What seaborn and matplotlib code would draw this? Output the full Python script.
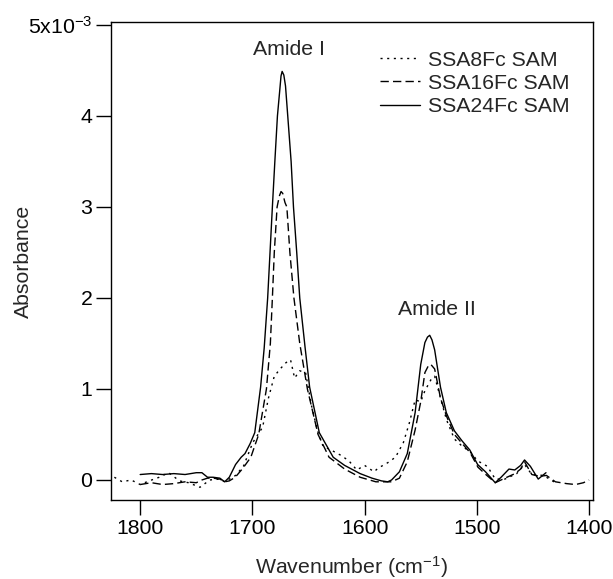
import matplotlib
matplotlib.use("Agg")
import matplotlib.pyplot as plt
import seaborn as sns
import pandas as pd

# ---- data (absorbance in units of 1e-3) ----
w_24 = [1800, 1790, 1780, 1770, 1760, 1750, 1745, 1740, 1735, 1729, 1724.7, 1720.6, 1715, 1710,
        1706.6, 1702, 1697.9, 1692.7, 1689.5, 1686.4, 1684.3, 1682.2, 1680, 1677.7, 1675.5, 1674.5,
        1673.5, 1672, 1670.5, 1668.5, 1665.5, 1663.4, 1660.5, 1657.8, 1653, 1649, 1640.4, 1628,
        1617.8, 1604, 1593.4, 1585, 1579.4, 1576, 1569, 1562, 1555, 1550, 1546.3, 1544, 1542,
        1540, 1537.6, 1532.4, 1527.2, 1520, 1513.2, 1506.3, 1499.3, 1492.3, 1483.6, 1478.4, 1471.4,
        1466.2, 1461, 1457.5, 1452.3, 1445.3, 1438.4]
a_24 = [0.06, 0.07, 0.06, 0.07, 0.06, 0.08, 0.08, 0.03, 0.03, 0.02, -0.02, 0.03, 0.17, 0.25,
        0.29, 0.40, 0.52, 1.02, 1.45, 2.00, 2.50, 3.00, 3.50, 4.00, 4.30, 4.44,
        4.49, 4.45, 4.33, 4.00, 3.50, 3.00, 2.50, 2.00, 1.45, 1.02, 0.52, 0.25,
        0.16, 0.07, 0.02, -0.01, -0.02, 0.00, 0.09, 0.29, 0.74, 1.27, 1.51, 1.57, 1.59,
        1.54, 1.43, 1.02, 0.74, 0.54, 0.43, 0.33, 0.17, 0.09, -0.03, 0.03, 0.12,
        0.11, 0.16, 0.22, 0.15, 0.01, 0.08]

w_16 = [1800, 1790, 1780, 1770, 1760, 1750, 1745, 1740, 1735, 1729, 1724.7, 1720.6, 1715.3, 1708.4,
        1701.4, 1694.4, 1687.5, 1684, 1682.2, 1680.5, 1678, 1676, 1674.5, 1673, 1671, 1669.3,
        1666.6, 1663, 1657.8, 1651, 1641.5, 1631.7, 1617.8, 1604, 1590, 1576, 1569, 1562, 1555,
        1550, 1546.3, 1543, 1541, 1537.6, 1532.4, 1527, 1520, 1513, 1506, 1499, 1492, 1483.6,
        1475, 1466, 1461, 1457.5, 1451, 1444, 1438, 1430, 1420, 1412, 1405, 1400]
a_16 = [-0.05, -0.03, -0.05, -0.04, -0.02, -0.03, 0.00, 0.02, 0.02, 0.01, -0.02, -0.01, 0.03, 0.13,
        0.25, 0.50, 1.00, 1.50, 2.00, 2.50, 3.00, 3.12, 3.17, 3.15, 3.05, 3.00,
        2.50, 2.00, 1.50, 1.00, 0.50, 0.25, 0.12, 0.03, -0.02, -0.02, 0.02, 0.20, 0.55,
        0.86, 1.18, 1.26, 1.27, 1.22, 0.90, 0.70, 0.50, 0.40, 0.30, 0.14, 0.06, -0.03,
        0.02, 0.07, 0.12, 0.20, 0.06, 0.04, 0.05, -0.02, -0.04, -0.05, -0.03, 0.00]

w_8 = [1823, 1816, 1808, 1800, 1792, 1783, 1774.6, 1765, 1757, 1746.7, 1738, 1729, 1724.7, 1715,
       1708, 1699.7, 1690.9, 1685.7, 1680.5, 1675.3, 1670, 1666, 1662.4, 1657.8, 1652.6, 1647.4,
       1642, 1637, 1630, 1621, 1614, 1607, 1600, 1591.6, 1588, 1579.4, 1572.5, 1565.5, 1560.3,
       1555, 1550, 1546.3, 1541, 1537.6, 1532.4, 1527, 1520, 1513, 1506, 1499.3, 1490.6, 1483.6,
       1475, 1464.5, 1457.5, 1451, 1440.6, 1430]
a_8 = [0.03, -0.02, 0.00, -0.05, -0.01, 0.03, 0.08, -0.01, -0.03, -0.08, 0.00, 0.01, -0.02, 0.05,
       0.15, 0.41, 0.58, 0.90, 1.14, 1.22, 1.29, 1.32, 1.12, 1.20, 1.18, 0.82,
       0.54, 0.37, 0.33, 0.27, 0.21, 0.11, 0.16, 0.09, 0.13, 0.19, 0.25, 0.41, 0.62,
       0.88, 0.86, 0.98, 1.10, 1.14, 0.90, 0.66, 0.45, 0.37, 0.31, 0.21, 0.15, 0.01,
       0.01, 0.07, 0.17, 0.06, 0.05, -0.03]

labels = ["SSA8Fc SAM", "SSA16Fc SAM", "SSA24Fc SAM"]
y_ticks = [0, 1, 2, 3, 4, 5]
y_ticklabels = ["0", "1", "2", "3", "4", "5x10$^{-3}$"]
x_ticks = [1800, 1700, 1600, 1500, 1400]

df = pd.concat([
    pd.DataFrame({"w": w_8, "A": a_8, "sample": labels[0]}),
    pd.DataFrame({"w": w_16, "A": a_16, "sample": labels[1]}),
    pd.DataFrame({"w": w_24, "A": a_24, "sample": labels[2]}),
], ignore_index=True)

sns.set_style("ticks")
plt.rcParams["font.family"] = ["Liberation Sans", "DejaVu Sans"]
plt.rcParams["mathtext.fontset"] = "custom"
plt.rcParams["mathtext.rm"] = "Liberation Sans"
plt.rcParams["mathtext.it"] = "Liberation Sans"

FS = 15.3
TOP, BOT = 22, 500
fig = plt.figure(figsize=(6.13, 5.79), dpi=100)
ax = fig.add_axes([111 / 613, 1 - BOT / 579, 482 / 613, (BOT - TOP) / 579])

sns.lineplot(data=df, x="w", y="A", style="sample", style_order=labels,
             dashes={labels[0]: (1.5, 3.3), labels[1]: (6, 3), labels[2]: ""},
             color="black", linewidth=1.0, sort=False, estimator=None, ax=ax)

ax.set_xlim(1826, 1396.5)
ax.set_ylim(-0.22, 5.033)
ax.set_xticks(x_ticks)
ax.set_yticks(y_ticks)
ax.set_yticklabels(y_ticklabels)
ax.tick_params(direction="out", length=10.5, width=1, labelsize=FS, colors="black", pad=3)
for s in ax.spines.values():
    s.set_visible(True)
    s.set_linewidth(1)
    s.set_color("black")

ax.set_xlabel("Wavenumber (cm$^{-1}$)", fontsize=FS)
ax.set_ylabel("Absorbance", fontsize=FS)
ax.xaxis.set_label_coords(0.5, (BOT - 567) / (BOT - TOP))
ax.xaxis.label.set_va("center")
ax.yaxis.set_label_coords((23 - 111) / 482, 0.5)
ax.yaxis.label.set_va("center")

ax.text(1667, 4.73, "Amide I", fontsize=FS, ha="center", va="center")
ax.text(1535.5, 1.87, "Amide II", fontsize=FS, ha="center", va="center")

leg = ax.legend(loc="upper left", bbox_to_anchor=(0.540, (BOT - 42) / (BOT - TOP)), frameon=False,
                fontsize=FS, handlelength=1.9, handletextpad=0.37, labelspacing=0.2, borderaxespad=0)
for line in leg.get_lines():
    line.set_linewidth(1.0)

fig.savefig("out.png", dpi=100)
